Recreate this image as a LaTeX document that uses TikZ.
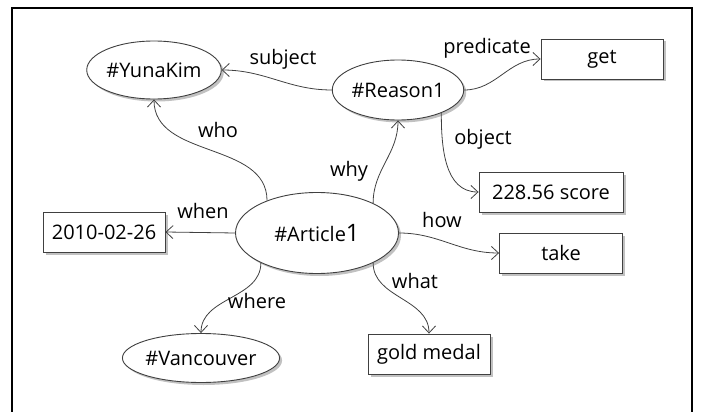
\documentclass[tikz,border=0pt]{standalone}
\usepackage{fontspec}
\setmainfont{Open Sans}
\usetikzlibrary{shapes.geometric,shadows,arrows.meta}
\begin{document}
\begin{tikzpicture}[x=1pt,y=-1pt,
  font=\fontsize{20}{23}\selectfont,
  base/.style={draw=black!75,line width=0.9pt,fill=white,inner sep=0pt,
    drop shadow={shadow xshift=2.5pt,shadow yshift=-2.5pt,opacity=0.35,fill=black!70}},
  oval/.style={base,ellipse},
  box/.style={base,rectangle,minimum height=40pt},
  edge/.style={draw=black!75,line width=0.8pt,-{Straight Barb[length=7pt,width=13pt]}},
  lbl/.style={inner sep=0pt}]
\useasboundingbox (0,0) rectangle (702,412);
\draw[line width=2.2pt] (12,413) -- (12,8) -- (692,8) -- (692,413);

\node[oval,minimum width=122pt,minimum height=58pt] (yuna) at (154,70) {\#YunaKim};
\node[oval,minimum width=122pt,minimum height=60pt] (reason) at (398,90) {\#Reason1};
\node[box,minimum width=122pt] (get) at (602,59) {get};
\node[box,minimum width=144pt] (score) at (551,192) {228.56 score};
\node[oval,minimum width=163pt,minimum height=81pt] (article) at (317,233) {\#Article{\fontsize{24}{25}\selectfont 1}};
\node[box,minimum width=122pt] (date) at (104,232) {2010-02-26};
\node[box,minimum width=123pt] (take) at (561,253) {take};
\node[oval,minimum width=132pt,minimum height=49pt] (van) at (201,358) {\#Vancouver};
\node[box,minimum width=122pt] (gold) at (429,354) {gold medal};

\draw[edge] (reason.west) to[out=180,in=0] (yuna.east);
\draw[edge] (article.147) to[out=90,in=-90] (yuna.south);
\draw[edge] (article.28) to[out=90,in=-90] (reason.south);
\draw[edge] (reason.east) to[out=0,in=180] (get.west);
\draw[edge] (reason.332) to[out=-90,in=180] (score.west);
\draw[edge] (article.west) -- (date.east);
\draw[edge] (article.208) to[out=-90,in=90] (van.north);
\draw[edge] (article.east) to[out=0,in=180] (take.west);
\draw[edge] (article.332) to[out=-90,in=90] (gold.north);

\node[lbl] (lsubject) at (283,59) {subject};
\node[lbl] (lwho) at (218,130) {who};
\node[lbl] (lwhy) at (349,171) {why};
\node[lbl] (lpred) at (487,48) {predicate};
\node[lbl] (lobj) at (483,139) {object};
\node[lbl] (lwhen) at (203,211) {when};
\node[lbl] (lwhere) at (257,301) {where};
\node[lbl] (lhow) at (442,220) {how};
\node[lbl] (lwhat) at (415,281) {what};
\end{tikzpicture}
\end{document}
